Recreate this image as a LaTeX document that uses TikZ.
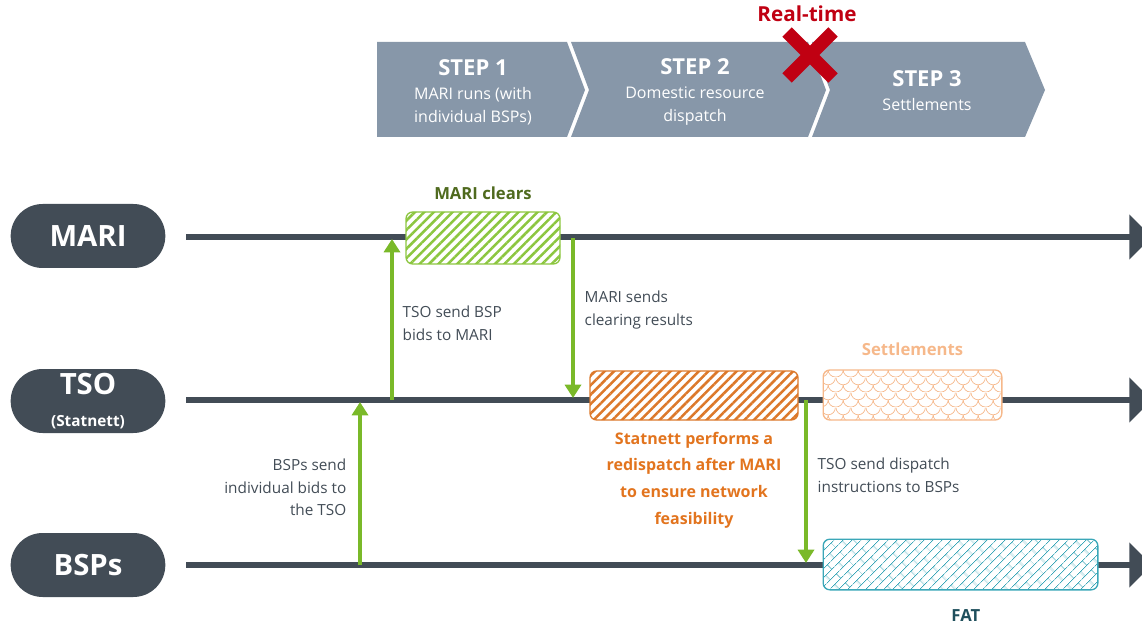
\documentclass[tikz,border=0pt]{standalone}
\usepackage{fontspec}
\setmainfont{Open Sans}
\usetikzlibrary{positioning,arrows.meta,patterns,patterns.meta}

\definecolor{slate}{HTML}{424C56}
\definecolor{chev}{HTML}{8797A9}
\definecolor{arrgreen}{HTML}{7AB929}
\definecolor{clrgreen}{HTML}{8CC63F}
\definecolor{darkgreen}{HTML}{4F6A1E}
\definecolor{redisp}{HTML}{DC782A}
\definecolor{redispt}{HTML}{E2741E}
\definecolor{settle}{HTML}{F6B88A}
\definecolor{fatbox}{HTML}{3BA7B8}
\definecolor{fattext}{HTML}{1F4F5C}
\definecolor{rtred}{HTML}{C00012}

% fish scales for the settlement phase
\tikzdeclarepattern{
  name=scales,
  type=uncolored,
  bounding box={(0pt,0pt) and (11pt,11pt)},
  tile size={(11pt,11pt)},
  code={
    \draw[line width=0.5pt] (0pt,11pt) arc[start angle=180,end angle=360,radius=5.5pt]
      (-5.5pt,5.5pt) arc[start angle=180,end angle=360,radius=5.5pt]
      (5.5pt,5.5pt) arc[start angle=180,end angle=360,radius=5.5pt];
  }
}
% diagonal bricks for FAT
\tikzdeclarepattern{
  name=bricks,
  type=uncolored,
  bounding box={(0pt,0pt) and (14pt,10pt)},
  tile size={(14pt,10pt)},
  tile transformation={rotate=45},
  code={
    \draw[line width=0.55pt] (0pt,2.5pt) -- (14pt,2.5pt) (0pt,7.5pt) -- (14pt,7.5pt)
      (3.5pt,2.5pt) -- (3.5pt,7.5pt) (10.5pt,7.5pt) -- (10.5pt,10pt) (10.5pt,0pt) -- (10.5pt,2.5pt);
  }
}

\begin{document}
\begin{tikzpicture}[
  x=0.75pt, y=-0.75pt,
  actor/.style={fill=slate, text=white, rounded corners=24pt, minimum width=116pt,
                minimum height=48pt, inner sep=0pt, align=center,
                font=\fontsize{22}{24}\selectfont\bfseries},
  tline/.style={draw=slate, line width=3.8pt, -{Triangle[length=17pt,width=33pt]}},
  steptxt/.style={text=white, align=center, font=\fontsize{12}{17}\selectfont},
  msg/.style={draw=arrgreen, line width=2.6pt, -{Triangle[length=10pt,width=12pt]}},
  lbl/.style={text=slate, font=\fontsize{11.5}{17}\selectfont},
  phase/.style={rounded corners=5pt, line width=1pt, inner sep=0pt,
                preaction={fill=white}},
  head/.style={font=\fontsize{12.5}{15}\selectfont\bfseries},
  node distance=4pt
]
\useasboundingbox (0,0) rectangle (1142,627);

% process steps
\fill[chev] (377,42) -- (567,42) -- (585,90) -- (567,137) -- (377,137) -- cycle;
\fill[chev] (571,42) -- (808,42) -- (826,90) -- (808,137) -- (571,137) -- (589,90) -- cycle;
\fill[chev] (812,42) -- (1025,42) -- (1045,90) -- (1025,137) -- (812,137) -- (830,90) -- cycle;
\node[steptxt] (s1) at (473,92)
  {{\fontsize{16.5}{18}\selectfont\bfseries STEP 1}\\[1pt] MARI runs (with\\ individual BSPs)};
\node[steptxt] (s2) at (695,92)
  {{\fontsize{16.5}{18}\selectfont\bfseries STEP 2}\\[1pt] Domestic resource\\ dispatch};
\node[steptxt] (s3) at (927,91)
  {{\fontsize{16.5}{18}\selectfont\bfseries STEP 3}\\[1pt] Settlements};

% real-time mark
\node[font=\fontsize{15.5}{17}\selectfont\bfseries, text=rtred] (rt) at (807,14) {Real-time};
\draw[rtred, line width=10pt] (787,32) -- (833,78) (833,32) -- (787,78);

% actors and timelines
\node[actor] (mari) at (88,236) {MARI};
\node[actor] (tso) at (88,401) {TSO\\\fontsize{11.5}{15.5}\selectfont(Statnett)};
\node[actor] (bsps) at (88,565) {BSPs};

\coordinate (mari-s) at (186,237); \coordinate (mari-e) at (1152,237);
\coordinate (tso-s) at (186,400);  \coordinate (tso-e) at (1152,400);
\coordinate (bsps-s) at (186,565); \coordinate (bsps-e) at (1152,565);
\draw[tline] (mari-s) -- (mari-e);
\draw[tline] (tso-s) -- (tso-e);
\draw[tline] (bsps-s) -- (bsps-e);

% phases
\node[phase, draw=clrgreen, pattern={Lines[angle=45,distance=5pt,line width=1.9pt]},
      pattern color=clrgreen, minimum width=115.5pt, minimum height=39pt] (clear) at (483,238) {};
\node[head, text=darkgreen, above=5pt of clear] (clearlbl) {MARI clears};

\node[phase, draw=redisp, pattern={Lines[angle=45,distance=5pt,line width=1.9pt]},
      pattern color=redisp, minimum width=156pt, minimum height=36.75pt] (redis) at (694,395.5) {};
\node[head, text=redispt, align=center, font=\fontsize{12}{20}\selectfont\bfseries,
      below=5pt of redis] (redislbl)
  {Statnett performs a\\ redispatch after MARI\\ to ensure network\\ feasibility};

\node[phase, draw=settle, pattern=scales, pattern color=settle,
      minimum width=134pt, minimum height=37.5pt] (settle) at (912.5,395) {};
\node[head, text=settle, above=7pt of settle] (settlelbl) {Settlements};

\node[phase, draw=fatbox, pattern=bricks, pattern color=fatbox,
      minimum width=206pt, minimum height=38pt] (fat) at (960.5,564.5) {};
\node[head, text=fattext, below=11pt of fat, xshift=4pt] (fatlbl) {FAT};

% messages
\coordinate (b1) at (360,565); \coordinate (t1) at (360,402);
\coordinate (t2) at (392,400); \coordinate (m2) at (392,239);
\coordinate (m3) at (573,238); \coordinate (t3) at (573,398);
\coordinate (t4) at (806,400); \coordinate (b4) at (806,563);
\draw[msg] (b1) -- (t1);
\draw[msg] (t2) -- (m2);
\draw[msg] (m3) -- (t3);
\draw[msg] (t4) -- (b4);

\node[lbl, align=right, anchor=north east] (bidlbl) at (351,454)
  {BSPs send\\ individual bids to\\ the TSO};
\node[lbl, align=left, anchor=north west] (fwdlbl) at (398,301)
  {TSO send BSP\\ bids to MARI};
\node[lbl, align=left, anchor=north west] (reslbl) at (580,286)
  {MARI sends\\ clearing results};
\node[lbl, align=left, anchor=north west] (displbl) at (813,453)
  {TSO send dispatch\\ instructions to BSPs};
\end{tikzpicture}
\end{document}
